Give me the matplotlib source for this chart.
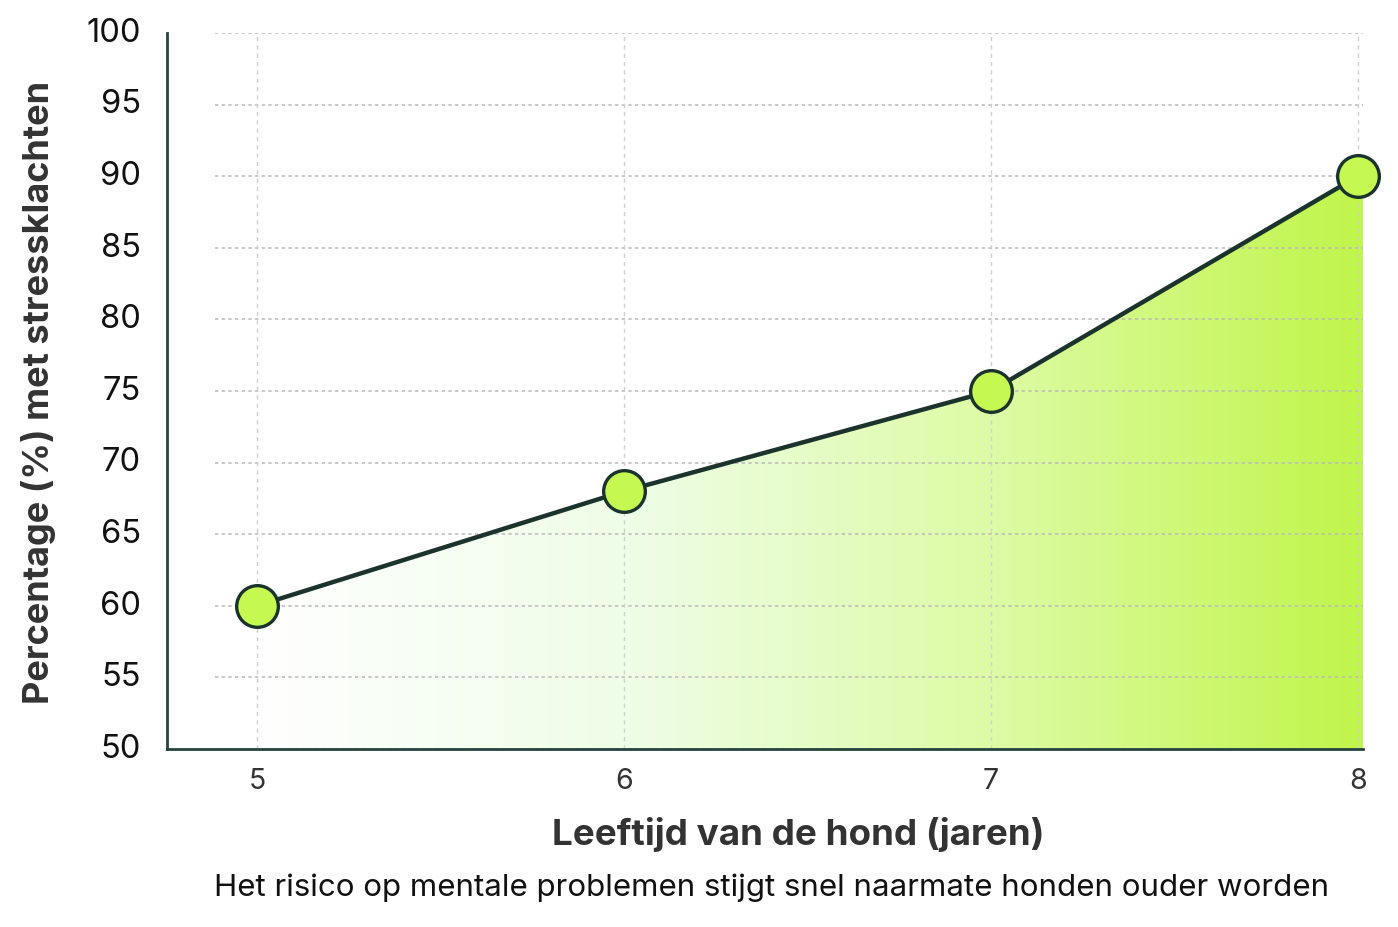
import numpy as np
import matplotlib
matplotlib.use("Agg")
import matplotlib.pyplot as plt
from matplotlib.colors import LinearSegmentedColormap
from matplotlib.patches import Polygon
from matplotlib.transforms import ScaledTranslation

plt.rcParams['font.family'] = ['Inter', 'DejaVu Sans']

# data
ages = [5, 6, 7, 8]
percent = [60, 68, 75, 90]
yticks = [50, 55, 60, 65, 70, 75, 80, 85, 90, 95, 100]

line_col = '#1b332d'
dot_col = '#c6f852'
grid_col = '#b8b8b8'

fig = plt.figure(figsize=(13.98, 9.28), dpi=100)
ax = fig.add_axes([0.1195, 0.1918, 0.8555, 0.7716])

x0, x1 = 4.755, 8.014
ax.set_xlim(x0, x1)
ax.set_ylim(50, 100)

# gradient fill under the line
cmap = LinearSegmentedColormap.from_list(
    'lime', [(0.0, '#ffffff'), (0.34, '#eefde6'), (0.67, '#ddfba4'), (1.0, '#c0f54a')])
grad = np.linspace(0, 1, 512).reshape(1, -1)
img = ax.imshow(grad, extent=[ages[0], x1, 50, 100], aspect='auto',
                cmap=cmap, origin='lower', zorder=1)
verts = [(ages[0], 50)] + list(zip(ages, percent)) + [(x1, percent[-1]), (x1, 50)]
poly = Polygon(verts, closed=True, facecolor='none', edgecolor='none')
ax.add_patch(poly)
img.set_clip_path(poly)

# grid lines
ax.hlines(yticks, 4.885, x1, colors=grid_col, linestyles=(0, (2, 2)),
          linewidth=1.2, zorder=2, alpha=0.9)
ax.vlines(ages, 50, 100, colors='#d0d0d0', linestyles=(0, (3, 3)),
          linewidth=1.0, zorder=2)

ax.plot(ages, percent, color=line_col, linewidth=3.2, zorder=3)
ax.plot(ages, percent, 'o', markersize=30, markerfacecolor=dot_col,
        markeredgecolor=line_col, markeredgewidth=2.4, zorder=4, clip_on=False)

for s in ['top', 'right']:
    ax.spines[s].set_visible(False)
for s in ['left', 'bottom']:
    ax.spines[s].set_color('#24443d')
    ax.spines[s].set_linewidth(2)

ax.set_yticks(yticks)
ax.set_xticks(ages)
ax.tick_params(axis='both', length=0)
ax.tick_params(axis='y', labelsize=23.5, labelcolor='#111111', pad=19)
ax.tick_params(axis='x', labelsize=20.5, labelcolor='#333333', pad=13)
shift = ScaledTranslation(0, 3 / 72, fig.dpi_scale_trans)
for lab in ax.get_yticklabels():
    lab.set_transform(lab.get_transform() + shift)

ax.set_ylabel('Percentage (%) met stressklachten', fontsize=26,
              fontweight='bold', color='#333333', labelpad=22)
fig.text(0.571, 0.101, 'Leeftijd van de hond (jaren)', fontsize=26.5,
         fontweight='bold', color='#333333', ha='center', va='center')
fig.text(0.552, 0.043,
         'Het risico op mentale problemen stijgt snel naarmate honden ouder worden',
         fontsize=22.5, color='#111111', ha='center', va='center')

fig.savefig('out.png', dpi=100)
